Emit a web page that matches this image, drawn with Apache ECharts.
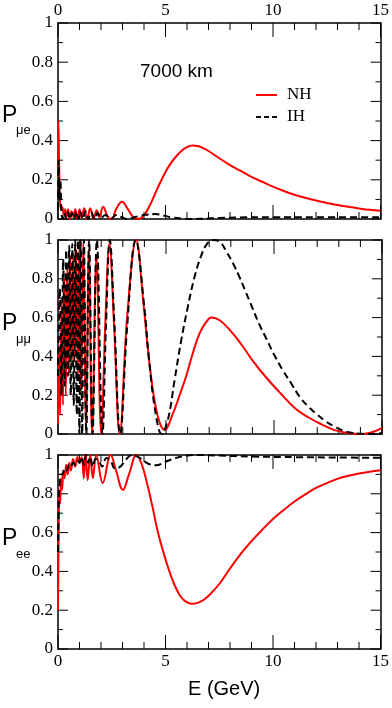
<!DOCTYPE html>
<html>
<head>
<meta charset="utf-8">
<script src="https://cdn.jsdelivr.net/npm/echarts@6/dist/echarts.min.js"></script>
<style>
    html, body { margin: 0; padding: 0; background: #ffffff; }
    #chart { width: 392px; height: 708px; }
</style>
</head>
<body>
<div id="chart"></div>
<script>
// Oscillation probabilities at 7000 km as [E (GeV), P]

// P(mu -> e)
const pmeNH = [[0,0.2],[0.02,0.5],[0.05,0.3],[0.09,0.1],[0.14,0.05],[0.2,0.06],[0.27,0.02],[0.33,0.05],[0.4,0.01],[0.47,0.05],[0.55,0.0],[0.63,0.04],[0.72,0.01],[0.8,0.05],[0.9,0.0],[1.0,0.05],[1.1,0.005],[1.22,0.055],[1.35,0.0],[1.5,0.055],[1.65,0.0],[1.8,0.045],[1.92,0.01],[2.1,0.062],[2.32,0.01],[2.5,0.0],[2.7,0.05],[2.98,0.088],[3.25,0.05],[3.5,0.01],[3.75,0.0],[4.0,0.02],[4.25,0.065],[4.5,0.125],[4.75,0.185],[5.0,0.24],[5.25,0.285],[5.5,0.32],[5.75,0.348],[6.0,0.367],[6.25,0.375],[6.5,0.372],[6.75,0.362],[7.0,0.347],[7.5,0.31],[8.0,0.275],[8.5,0.245],[9.0,0.215],[9.5,0.19],[10.0,0.165],[10.5,0.143],[11.0,0.124],[11.5,0.108],[12.0,0.094],[12.5,0.082],[13.0,0.071],[13.5,0.062],[14.0,0.054],[14.5,0.047],[15,0.042]];
const pmeIH = [[0,0.05],[0.03,0.3],[0.07,0.1],[0.11,0.2],[0.16,0.04],[0.22,0.0],[0.3,0.03],[0.38,0.0],[0.46,0.035],[0.55,0.0],[0.65,0.03],[0.75,0.0],[0.85,0.04],[0.95,0.0],[1.05,0.035],[1.15,0.0],[1.28,0.04],[1.4,0.0],[1.55,0.035],[1.7,0.0],[1.85,0.03],[2.0,0.005],[2.2,0.02],[2.45,0.0],[2.7,0.02],[2.95,0.01],[3.2,0.0],[3.45,0.005],[3.75,0.015],[4.1,0.022],[4.5,0.025],[4.9,0.018],[5.3,0.008],[5.8,0.002],[6.3,0.0],[6.8,0.002],[7.5,0.005],[8.5,0.008],[10,0.009],[12,0.009],[15,0.009]];

// P(mu -> mu)
const pmmNH = [[0,0.05],[0.05,0.45],[0.1,0.1],[0.17,0.7],[0.23,0.15],[0.3,0.8],[0.36,0.2],[0.43,0.88],[0.5,0.3],[0.57,0.92],[0.64,0.35],[0.71,0.93],[0.78,0.4],[0.85,0.95],[0.92,0.3],[0.99,0.98],[1.07,0.2],[1.17,0.98],[1.3,0.05],[1.43,0.95],[1.58,0.0],[1.78,0.92],[2.0,0.0],[2.2,0.6],[2.38,0.98],[2.6,0.55],[2.86,0.0],[3.2,0.6],[3.62,1.0],[3.95,0.68],[4.25,0.35],[4.6,0.1],[4.95,0.02],[5.3,0.1],[5.6,0.19],[5.94,0.3],[6.25,0.42],[6.56,0.52],[6.85,0.575],[7.1,0.6],[7.5,0.585],[8.0,0.53],[8.5,0.46],[9.0,0.38],[9.65,0.29],[10.3,0.21],[11.0,0.13],[11.6,0.085],[12.2,0.05],[12.8,0.02],[13.4,0.005],[14.0,0.0],[14.5,0.008],[15,0.03]];
const pmmIH = [[0,0.3],[0.08,0.75],[0.16,0.2],[0.24,0.9],[0.31,0.25],[0.38,0.95],[0.45,0.3],[0.52,0.97],[0.59,0.2],[0.66,0.98],[0.73,0.15],[0.8,1.0],[0.87,0.1],[0.93,1.0],[0.99,0.0],[1.05,1.0],[1.12,0.0],[1.2,1.0],[1.31,0.0],[1.44,1.0],[1.6,0.0],[1.8,1.0],[2.06,0.0],[2.22,0.55],[2.4,1.0],[2.6,0.6],[2.88,0.0],[3.2,0.55],[3.6,1.0],[4.0,0.65],[4.2,0.4],[4.5,0.12],[4.8,0.0],[5.1,0.08],[5.4,0.28],[5.7,0.48],[6.0,0.65],[6.3,0.8],[6.6,0.91],[6.9,0.98],[7.2,1.0],[7.5,0.99],[7.8,0.94],[8.1,0.88],[8.4,0.81],[8.7,0.73],[9.0,0.65],[9.3,0.57],[9.65,0.49],[10.0,0.41],[10.4,0.33],[10.8,0.26],[11.2,0.19],[11.6,0.14],[12.0,0.1],[12.4,0.065],[12.8,0.038],[13.2,0.018],[13.6,0.006],[14.0,0.001],[14.4,0.0],[15,0.005]];

// P(e -> e)
const peeNH = [[0,0.2],[0.03,0.6],[0.06,0.8],[0.1,0.75],[0.14,0.88],[0.19,0.82],[0.25,0.92],[0.31,0.88],[0.38,0.95],[0.45,0.9],[0.53,0.96],[0.6,0.92],[0.7,0.98],[0.8,0.94],[0.9,0.99],[1.0,0.96],[1.1,0.99],[1.2,0.88],[1.28,1.02],[1.38,0.87],[1.5,1.0],[1.62,0.88],[1.78,1.0],[2.08,0.855],[2.45,1.0],[2.7,0.92],[3.02,0.82],[3.3,0.9],[3.65,1.0],[3.9,0.95],[4.15,0.85],[4.4,0.73],[4.65,0.6],[4.9,0.5],[5.15,0.41],[5.4,0.335],[5.65,0.28],[5.9,0.248],[6.2,0.233],[6.5,0.238],[6.8,0.255],[7.1,0.285],[7.5,0.335],[8.0,0.415],[8.5,0.49],[9.0,0.556],[9.5,0.615],[10.0,0.67],[10.5,0.717],[11.0,0.76],[11.5,0.797],[12.0,0.83],[12.5,0.855],[13.0,0.877],[13.5,0.893],[14.0,0.905],[14.5,0.914],[15,0.921]];
const peeIH = [[0,0.5],[0.04,0.78],[0.08,0.86],[0.12,0.9],[0.2,0.9],[0.3,0.93],[0.4,0.92],[0.5,0.95],[0.6,0.94],[0.7,0.96],[0.8,0.95],[0.9,0.97],[1.0,0.96],[1.1,0.99],[1.2,0.95],[1.3,1.0],[1.4,0.96],[1.5,0.99],[1.62,0.94],[1.75,0.98],[1.9,0.97],[2.05,0.94],[2.25,0.985],[2.45,0.97],[2.65,0.93],[2.9,0.94],[3.15,0.975],[3.45,1.0],[3.8,0.985],[4.2,0.955],[4.55,0.947],[5.0,0.965],[5.5,0.985],[6.0,0.997],[6.5,1.0],[7.5,0.997],[9,0.992],[11,0.989],[13,0.987],[15,0.986]];

const panelData = [[pmeNH, pmeIH], [pmmNH, pmmIH], [peeNH, peeIH]];
const panelSubs = ['μe', 'μμ', 'ee'];

// tick positions
const energyTicks = [0, 5, 10, 15];
const energyMinor = [1, 2, 3, 4, 6, 7, 8, 9, 11, 12, 13, 14];
const probTicks = [0, 0.2, 0.4, 0.6, 0.8, 1];
const probMinor = [0.1, 0.3, 0.5, 0.7, 0.9];

const serif = 'Liberation Serif';
const sans = 'Liberation Sans';
const chartW = 392;

// panel frames in pixels
const grids = [
    { left: 58, right: 10, top: 23, height: 196 },
    { left: 58, right: 10, top: 240, height: 194 },
    { left: 58, right: 10, top: 455, height: 194 }
];
// where the P / subscript labels sit (pixel tops)
const titleTops = [[104, 124], [312, 333], [527, 548]];

const xLo = energyTicks[0];
const xHi = energyTicks[energyTicks.length - 1];
const yLo = probTicks[0];
const yHi = probTicks[probTicks.length - 1];

function makeX(gridIndex, position, showLabel) {
    return {
        type: 'value',
        gridIndex: gridIndex,
        position: position,
        min: xLo,
        max: xHi,
        interval: energyTicks[1] - energyTicks[0],
        axisLine: { show: true, onZero: false, lineStyle: { color: '#000', width: 1.5 } },
        axisTick: { show: false },
        splitLine: { show: false },
        axisLabel: {
            show: showLabel,
            margin: 4,
            color: '#000',
            fontFamily: serif,
            fontSize: 17
        }
    };
}

function makeY(gridIndex, position, showLabel) {
    return {
        type: 'value',
        gridIndex: gridIndex,
        position: position,
        min: yLo,
        max: yHi,
        interval: probTicks[1] - probTicks[0],
        axisLine: { show: true, onZero: false, lineStyle: { color: '#000', width: 1.5 } },
        axisTick: { show: false },
        splitLine: { show: false },
        axisLabel: {
            show: showLabel,
            margin: 5,
            color: '#000',
            fontFamily: serif,
            fontSize: 17
        }
    };
}

// inward tick marks on all four sides, as short segments in data units, broken by nulls
function frameTicks(g) {
    const xPerPx = (xHi - xLo) / (chartW - g.left - g.right);
    const yPerPx = (yHi - yLo) / g.height;
    const pts = [];
    function xTick(v, len) {
        pts.push([v, yLo], [v, yLo + len * yPerPx], null);
        pts.push([v, yHi], [v, yHi - len * yPerPx], null);
    }
    function yTick(v, len) {
        pts.push([xLo, v], [xLo + len * xPerPx, v], null);
        pts.push([xHi, v], [xHi - len * xPerPx, v], null);
    }
    energyTicks.forEach(function (v) { xTick(v, 14); });
    energyMinor.forEach(function (v) { xTick(v, 7); });
    probTicks.forEach(function (v) { yTick(v, 10); });
    probMinor.forEach(function (v) { yTick(v, 5); });
    return pts;
}

const xAxes = [];
const yAxes = [];
const series = [];
const graphics = [];

grids.forEach(function (g, i) {
    xAxes.push(makeX(i, 'bottom', i === 2));
    xAxes.push(makeX(i, 'top', i === 0));
    yAxes.push(makeY(i, 'left', true));
    yAxes.push(makeY(i, 'right', false));

    series.push({
        type: 'line',
        xAxisIndex: 2 * i,
        yAxisIndex: 2 * i,
        data: frameTicks(g),
        symbol: 'none',
        connectNulls: false,
        silent: true,
        clip: false,
        lineStyle: { color: '#000', width: 1 }
    });
    series.push({
        name: 'NH',
        type: 'line',
        xAxisIndex: 2 * i,
        yAxisIndex: 2 * i,
        data: panelData[i][0],
        symbol: 'none',
        smooth: 0.4,
        lineStyle: { color: '#ff0000', width: 2 }
    });
    series.push({
        name: 'IH',
        type: 'line',
        xAxisIndex: 2 * i,
        yAxisIndex: 2 * i,
        data: panelData[i][1],
        symbol: 'none',
        smooth: 0.4,
        lineStyle: { color: '#000000', width: 2, type: [7, 4] }
    });

    // y axis title: P with subscript
    graphics.push({
        type: 'text',
        left: 2,
        top: titleTops[i][0],
        style: { text: 'P', font: '23px ' + sans, fill: '#000' }
    });
    graphics.push({
        type: 'text',
        left: 16,
        top: titleTops[i][1],
        style: { text: panelSubs[i], font: '13px ' + sans, fill: '#000' }
    });
});

// key
graphics.push({ type: 'line', shape: { x1: 256, y1: 95, x2: 277, y2: 95 }, style: { stroke: '#ff0000', lineWidth: 2 } });
graphics.push({ type: 'line', shape: { x1: 256, y1: 117, x2: 277, y2: 117 }, style: { stroke: '#000', lineWidth: 2, lineDash: [5, 3] } });
graphics.push({ type: 'text', left: 287, top: 86, style: { text: 'NH', font: '17px ' + serif, fill: '#000' } });
graphics.push({ type: 'text', left: 287, top: 108, style: { text: 'IH', font: '17px ' + serif, fill: '#000' } });

graphics.push({
    type: 'text',
    left: 140,
    top: 62,
    style: { text: '7000 km', font: '19px ' + sans, fill: '#000' }
});
graphics.push({
    type: 'text',
    left: 188,
    top: 679,
    style: { text: 'E (GeV)', font: '20px ' + sans, fill: '#000' }
});

const chart = echarts.init(document.getElementById('chart'), null, { renderer: 'canvas' });
chart.setOption({
    animation: false,
    grid: grids,
    xAxis: xAxes,
    yAxis: yAxes,
    graphic: graphics,
    series: series
});
</script>
</body>
</html>
